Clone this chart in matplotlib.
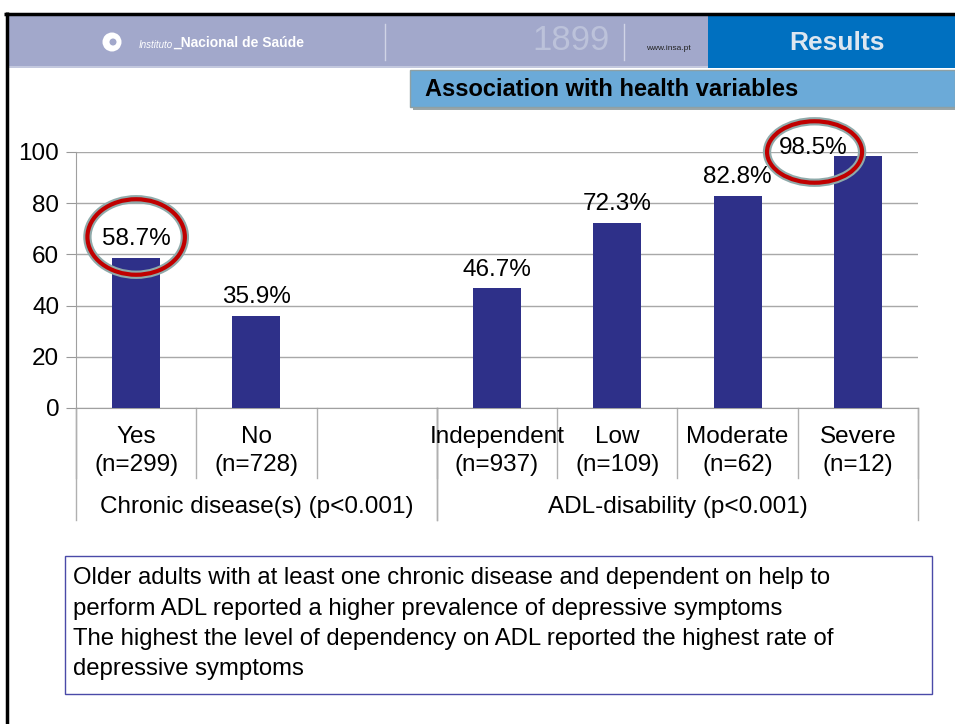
import numpy as np
import matplotlib
matplotlib.use("Agg")
import matplotlib.pyplot as plt
from matplotlib.patches import Rectangle, Ellipse, Circle

plt.rcParams['font.family'] = ['Liberation Sans', 'DejaVu Sans']

# data
categories = ['Yes', 'No', '', 'Independent', 'Low', 'Moderate', 'Severe']
sample_n = ['(n=299)', '(n=728)', '', '(n=937)', '(n=109)', '(n=62)', '(n=12)']
prevalence = [58.7, 35.9, np.nan, 46.7, 72.3, 82.8, 98.5]
groups = ['Chronic disease(s) (p<0.001)', 'ADL-disability (p<0.001)']
group_spans = [(-0.5, 2.5), (2.5, 6.5)]
yticks = [0, 20, 40, 60, 80, 100]
highlighted = [0, 6]
notes = [
    'Older adults with at least one chronic disease and dependent on help to',
    'perform ADL reported a higher prevalence of depressive symptoms',
    'The highest the level of dependency on ADL reported the highest rate of',
    'depressive symptoms',
]

W, H = 955, 724
fig = plt.figure(figsize=(W / 100, H / 100), dpi=100)
fig.patch.set_facecolor('white')

# slide decoration in pixel coordinates
deco = fig.add_axes([0, 0, 1, 1])
deco.set_xlim(0, W)
deco.set_ylim(H, 0)
deco.axis('off')

deco.add_patch(Rectangle((8, 15), 700, 53, facecolor='#A2A8CB', edgecolor='none'))
deco.add_patch(Rectangle((8, 66), 700, 2, facecolor='#C3C8DE', edgecolor='none'))
deco.add_patch(Rectangle((708, 15), 247, 53, facecolor='#0070C0', edgecolor='none'))
deco.plot([4, W], [13.5, 13.5], color='black', lw=2.5, solid_capstyle='butt')
deco.plot([6.5, 6.5], [12, H], color='black', lw=2.5, solid_capstyle='butt')

deco.add_patch(Circle((112, 42), 9.5, facecolor='white', edgecolor='none'))
deco.add_patch(Circle((113, 42), 3.5, facecolor='#A2A8CB', edgecolor='none'))
deco.text(173, 45, 'Instituto', color='white', fontsize=7, style='italic',
          va='center', ha='right')
deco.text(173, 43, '_Nacional de Saúde', color='white', fontsize=10,
          fontweight='bold', va='center', ha='left')
deco.plot([385, 385], [24, 60], color='#D0D4E6', lw=1)
deco.plot([624, 624], [24, 60], color='#D0D4E6', lw=1)
deco.text(571, 41, '1899', color='#BCC2DA', fontsize=25, va='center', ha='center')
deco.text(668, 48, 'www.insa.pt', color='#222222', fontsize=6, va='center', ha='center')
deco.text(837, 43, 'Results', color='#DCE6F0', fontsize=19, fontweight='bold',
          va='center', ha='center')

deco.add_patch(Rectangle((413, 73), 542, 37, facecolor='#9AA6A8', edgecolor='none'))
deco.add_patch(Rectangle((410, 70), 545, 37, facecolor='#6BAAD8', edgecolor='#8EA0A4', lw=1))
deco.text(425, 89, 'Association with health variables', color='black', fontsize=17,
          fontweight='bold', va='center', ha='left')

deco.add_patch(Rectangle((65, 556), 867, 138, facecolor='white', edgecolor='#4A4AA8', lw=1))
for i, line in enumerate(notes):
    deco.text(73, 578 + i * 30.5, line, fontsize=17.2, va='center', ha='left')

# chart
ax = fig.add_axes([76 / W, 1 - 408 / H, 842 / W, 256 / H])
x = np.arange(len(categories))
ax.bar(x, prevalence, width=0.4, color='#2E3089', zorder=3)
ax.set_xlim(-0.5, len(categories) - 0.5)
ax.set_ylim(0, 100)
ax.set_yticks(yticks)
ax.tick_params(axis='y', labelsize=17.5, length=7, color='#999999', pad=5)
ax.tick_params(axis='x', bottom=False, labelbottom=False)
ax.yaxis.grid(True, color='#A8A8A8', lw=1, zorder=0)
for s in ['top', 'right']:
    ax.spines[s].set_visible(False)
for s in ['left', 'bottom']:
    ax.spines[s].set_color('#A0A0A0')

for xi, v in zip(x, prevalence):
    if np.isnan(v):
        continue
    ty = v + 7.4
    tx = xi
    if ty > 101.7:  # label pushed inside the plot area, next to the bar
        ty, tx = 101.7, xi - 0.37
    ax.text(tx, ty, f'{v}%', ha='center', va='center', fontsize=17.5, zorder=5)

trans = ax.get_xaxis_transform()
for xi, (c, n) in enumerate(zip(categories, sample_n)):
    ax.text(xi, -0.113, c, ha='center', va='center', fontsize=17.5, transform=trans)
    ax.text(xi, -0.223, n, ha='center', va='center', fontsize=17.5, transform=trans)
for b in np.arange(-0.5, len(categories)):
    ax.plot([b, b], [0, -0.273], color='#B0B0B0', lw=1, transform=trans, clip_on=False)
for g, (a, b) in zip(groups, group_spans):
    ax.text((a + b) / 2, -0.387, g, ha='center', va='center', fontsize=17.5, transform=trans)
    for e in (a, b):
        ax.plot([e, e], [0, -0.4375], color='#B0B0B0', lw=1, transform=trans, clip_on=False)

# highlight circles
circ_spec = {0: (0.0, 66.8, 0.81, 29.5), 6: (-0.36, 100.0, 0.79, 24.0)}
for i in highlighted:
    dx, cy, w, h = circ_spec[i]
    for ec, lw in (('#8FAAAA', 6), ('#C00000', 3)):
        ax.add_patch(Ellipse((x[i] + dx, cy), w, h, facecolor='none', edgecolor=ec,
                             lw=lw, clip_on=False, zorder=6))

fig.savefig('out.png', dpi=100)
